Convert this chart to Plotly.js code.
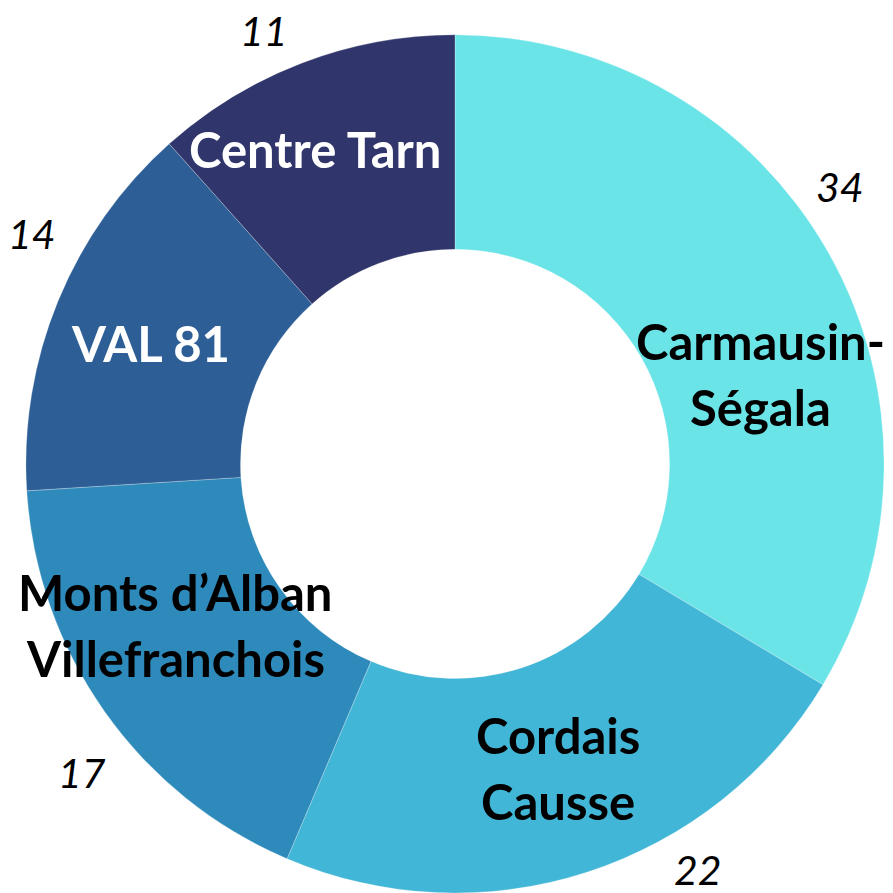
<!DOCTYPE html>
<html>
<head>
<meta charset="utf-8">
<script src="https://cdn.plot.ly/plotly-3.0.1.min.js"></script>
<style>
  html, body { margin: 0; padding: 0; background: #fff; overflow: hidden; }
  #chart { width: 893px; height: 893px; }
</style>
</head>
<body>
<div id="chart"></div>
<script>
// ---- data ----
const categories = ['Carmausin-Ségala', 'Cordais Causse', 'Monts d’Alban Villefranchois', 'VAL 81', 'Centre Tarn'];
const categoryLines = [['Carmausin-', 'Ségala'], ['Cordais', 'Causse'], ['Monts d’Alban', 'Villefranchois'], ['VAL 81'], ['Centre Tarn']];
// value labels printed on the chart
const values = [34, 22, 17, 14, 11];
// slice sizes as drawn in the picture (share of the full circle, %)
const drawnShares = [33.6, 22.8, 17.6, 14.4, 11.6];

// ---- styles ----
const sliceColors = ['#6be4e8', '#42b6d6', '#2e8aba', '#2d5f96', '#30356b'];
const labelColors = ['#000000', '#000000', '#000000', '#ffffff', '#ffffff'];
// pixel positions of the text blocks (canvas 893 x 893)
const labelPos = [[760, 374], [558, 768], [175, 625], [150, 343], [315, 149]];
const valuePos = [[840, 186], [698, 869], [82, 772], [32, 233], [264, 30]];
const linePitch = 66;

const W = 893, H = 893;
const annotations = [];
categories.forEach((c, i) => {
  const lines = categoryLines[i];
  lines.forEach((ln, k) => {
    const py = labelPos[i][1] + (k - (lines.length - 1) / 2) * linePitch;
    annotations.push({
      text: ln,
      x: labelPos[i][0] / W, y: 1 - py / H,
      xref: 'paper', yref: 'paper', xanchor: 'center', yanchor: 'middle',
      showarrow: false, align: 'center',
      font: { family: 'Lato, "Open Sans", sans-serif', size: 49, weight: 'bold', color: labelColors[i] }
    });
  });
  annotations.push({
    text: String(values[i]),
    x: valuePos[i][0] / W, y: 1 - valuePos[i][1] / H,
    xref: 'paper', yref: 'paper', xanchor: 'center', yanchor: 'middle',
    showarrow: false,
    font: { family: 'Lato, "Open Sans", sans-serif', size: 41, style: 'italic', color: '#000000' }
  });
});

const trace = {
  type: 'pie',
  labels: categories,
  values: drawnShares,
  hole: 0.5,
  sort: false,
  direction: 'clockwise',
  rotation: 0,
  textinfo: 'none',
  hoverinfo: 'label',
  marker: { colors: sliceColors, line: { color: 'rgba(255,255,255,0.25)', width: 1 } },
  domain: { x: [25 / W, 885 / W], y: [0, 0.961] },
  showlegend: false
};

const layout = {
  width: W, height: H,
  margin: { l: 0, r: 0, t: 0, b: 0 },
  paper_bgcolor: '#ffffff',
  showlegend: false,
  annotations: annotations
};

Plotly.newPlot('chart', [trace], layout, { displayModeBar: false, staticPlot: true });
</script>
</body>
</html>
